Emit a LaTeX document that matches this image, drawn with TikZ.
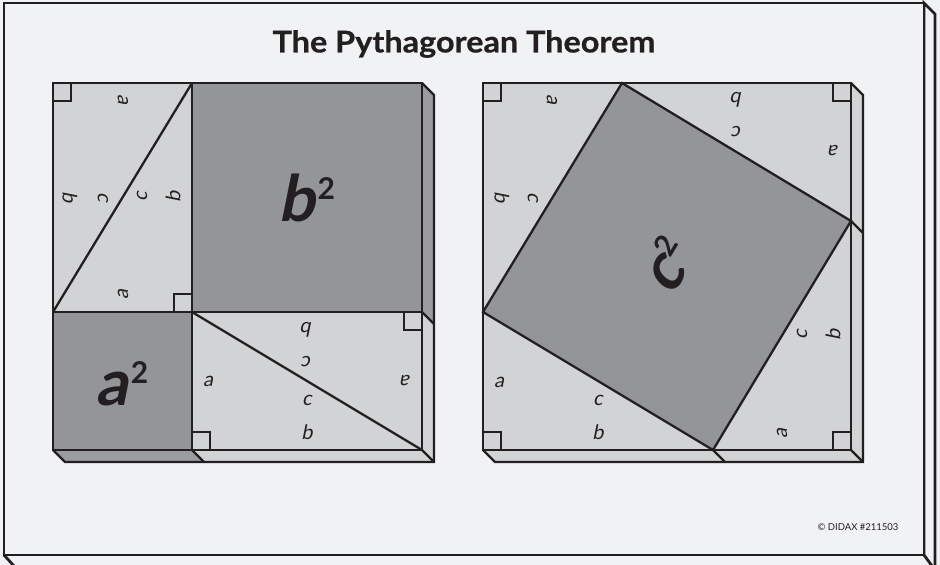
\documentclass[tikz,border=0pt]{standalone}
\usepackage{fontspec}
\setmainfont{Lato}
\newfontfamily\obl[FakeSlant=0.2]{Lato}
\definecolor{bg}{HTML}{F1F2F4}
\definecolor{lt}{HTML}{D1D3D4}
\definecolor{dk}{HTML}{939598}
\definecolor{dkside}{HTML}{9A9C9F}
\definecolor{ink}{HTML}{231F20}
\newcommand\bigsq[2]{{\fontsize{64}{64}\selectfont\obl\bfseries #1}\hspace{2.5pt}\raisebox{#2}{\fontsize{30}{30}\selectfont\bfseries 2}}
\tikzset{
  edge/.style={draw=ink, line width=2.3pt, line join=miter},
  rtmark/.style={draw=ink, line width=2pt},
  lbl/.style={inner sep=0pt, font=\fontsize{20}{20}\selectfont\obl, text=ink},
  biglbl/.style={inner sep=0pt, text=ink},
  board/.style={draw=ink, line width=2.8pt, line join=miter}
}
\begin{document}
\begin{tikzpicture}[x=1pt,y=-1pt]
\fill[bg] (0,0) rectangle (940,565);
\useasboundingbox (0,0) rectangle (940,565);

% board
\filldraw[board, fill=bg] (924,3) -- (935,14) -- (935,570) -- (924,555) -- cycle;
\draw[board] (4,555) -- (14,566);
\filldraw[board, fill=bg] (4,3) rectangle (924,555);

\node[inner sep=0pt, text=ink] (title) at (464,44) {\scalebox{1.08}[1]{\fontsize{30}{30}\selectfont\bfseries\addfontfeature{FakeBold=0.6}The Pythagorean Theorem}};
\node[inner sep=0pt, text=ink, font=\fontsize{9.5}{9.5}\selectfont] (copy) at (858,527) {© DIDAX \#211503};

% ---------- left square ----------
\coordinate (L1) at (53,83);  \coordinate (L2) at (192,83);  \coordinate (L3) at (422,83);
\coordinate (L4) at (53,312); \coordinate (L5) at (192,312); \coordinate (L6) at (422,312);
\coordinate (L7) at (53,450); \coordinate (L8) at (192,450); \coordinate (L9) at (422,450);
\fill[lt] (L1) rectangle (L5);
\fill[dk] (L2) rectangle (L6);
\fill[dk] (L4) rectangle (L8);
\fill[lt] (L5) rectangle (L9);
\fill[dkside] (L3) -- ++(12,12) -- (434,324) -- (L6) -- cycle;
\fill[lt] (L6) -- (434,324) -- (434,462) -- (L9) -- cycle;
\fill[dkside] (L7) -- (L8) -- (204,462) -- (65,462) -- cycle;
\fill[lt] (L8) -- (L9) -- (434,462) -- (204,462) -- cycle;
\draw[edge] (L1) rectangle (L9);
\draw[edge] (L2) -- (L8);
\draw[edge] (L4) -- (L6);
\draw[edge] (L2) -- (L4);
\draw[edge] (L5) -- (L9);
\draw[edge] (L3) -- (434,95) -- (434,462) -- (65,462) -- (L7);
\draw[edge] (L6) -- (434,324);
\draw[edge] (L8) -- (204,462);
\draw[edge] (L9) -- (434,462);
\draw[rtmark] (53,101) -- (71,101) -- (71,83);
\draw[rtmark] (174,312) -- (174,294) -- (192,294);
\draw[rtmark] (404,312) -- (404,330) -- (422,330);
\draw[rtmark] (192,432) -- (210,432) -- (210,450);

\node[biglbl] (bsq) at (307,198) {\bigsq{b}{22pt}};
\node[biglbl] (asq) at (122,384) {\bigsq{a}{22pt}};

\node[lbl, rotate=-90] (l1a) at (123,99) {a};
\node[lbl, rotate=-90] (l1b) at (70,197) {b};
\node[lbl, rotate=-90] (l1c) at (103,197) {c};
\node[lbl, rotate=90] (l2a) at (123,295) {a};
\node[lbl, rotate=90] (l2b) at (173,197) {b};
\node[lbl, rotate=90] (l2c) at (142,197) {c};
\node[lbl, rotate=180] (l3a) at (406,381) {a};
\node[lbl, rotate=180] (l3b) at (307,330) {b};
\node[lbl, rotate=180] (l3c) at (307,362) {c};
\node[lbl] (l4a) at (208,381) {a};
\node[lbl] (l4b) at (307,432) {b};
\node[lbl] (l4c) at (307,400) {c};

% ---------- right square ----------
\coordinate (R1) at (483,83);  \coordinate (R2) at (851,83);
\coordinate (R3) at (851,450); \coordinate (R4) at (483,450);
\coordinate (T1) at (622,83);  \coordinate (T2) at (851,221);
\coordinate (T3) at (713,450); \coordinate (T4) at (483,312);
\fill[lt] (R1) rectangle (R3);
\fill[dk] (T1) -- (T2) -- (T3) -- (T4) -- cycle;
\fill[lt] (R2) -- (863,95) -- (863,462) -- (R3) -- cycle;
\fill[lt] (R4) -- (R3) -- (863,462) -- (495,462) -- cycle;
\draw[edge] (R1) rectangle (R3);
\draw[edge] (T1) -- (T2) -- (T3) -- (T4) -- cycle;
\draw[edge] (R2) -- (863,95) -- (863,462) -- (495,462) -- (R4);
\draw[edge] (T2) -- (863,233);
\draw[edge] (T3) -- (725,462);
\draw[edge] (R3) -- (863,462);
\draw[rtmark] (483,101) -- (501,101) -- (501,83);
\draw[rtmark] (833,83) -- (833,101) -- (851,101);
\draw[rtmark] (833,450) -- (833,432) -- (851,432);
\draw[rtmark] (483,432) -- (501,432) -- (501,450);

\node[biglbl, rotate=59] (csq) at (667,265) {\bigsq{c}{22pt}};

\node[lbl, rotate=-90] (r1a) at (552,99) {a};
\node[lbl, rotate=-90] (r1b) at (502,197) {b};
\node[lbl, rotate=-90] (r1c) at (533,197) {c};
\node[lbl, rotate=180] (r2a) at (834,151) {a};
\node[lbl, rotate=180] (r2b) at (737,100) {b};
\node[lbl, rotate=180] (r2c) at (737,132) {c};
\node[lbl, rotate=90] (r3a) at (782,434) {a};
\node[lbl, rotate=90] (r3b) at (833,335) {b};
\node[lbl, rotate=90] (r3c) at (802,335) {c};
\node[lbl] (r4a) at (499,382) {a};
\node[lbl] (r4b) at (598,432) {b};
\node[lbl] (r4c) at (598,400) {c};
\end{tikzpicture}
\end{document}
